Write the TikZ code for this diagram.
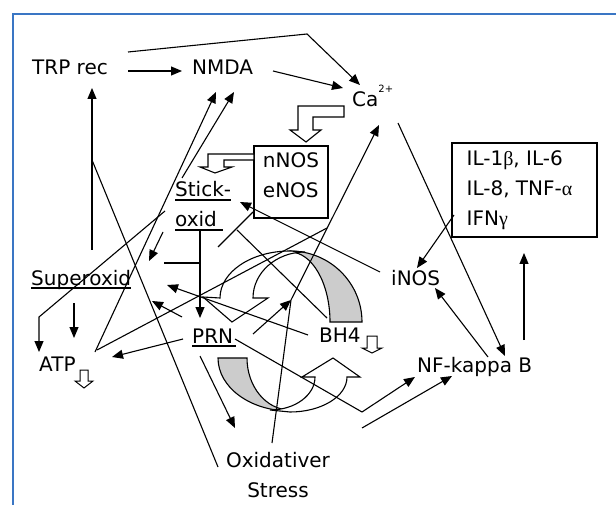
\documentclass[tikz,border=0pt]{standalone}
\usepackage{fontspec}
\setmainfont{DejaVu Sans}
\newfontfamily\grk{Liberation Serif}
\usetikzlibrary{arrows.meta}
\definecolor{frameblue}{RGB}{58,118,196}
\definecolor{shade}{RGB}{204,204,204}
\begin{document}
\begin{tikzpicture}[x=1pt,y=-1pt,
  lbl/.style={font=\fontsize{20}{30}\selectfont, inner sep=0pt, anchor=base west},
  boxed/.style={draw, line width=1.1pt, font=\fontsize{20}{30}\selectfont, inner sep=0pt},
  ln/.style={line width=1.1pt},
  arr/.style={ln, -{Triangle[length=11pt,width=9pt]}},
  ul/.style={line width=1.4pt},
  hollow/.style={draw, line width=1.1pt, fill=white, line join=miter},
  curvfront/.style={draw, line width=1.1pt, fill=white},
  curvback/.style={draw, line width=1.1pt, fill=shade},
  frameline/.style={line width=2pt, draw=frameblue}]

\useasboundingbox (0,0) rectangle (616,505);
\fill[white] (0,0) rectangle (616,505);
\draw[frameline] (616,14) -- (13,14) -- (13,505);

% ---- curved block arrows (cycle) ----
% upper arrow: back (gray) part
\path[curvback] (290,251) .. controls (329.8,251) and (362,282.8) .. (362,322)
  -- (330,322) .. controls (330,283.3) and (312.1,252) .. (290,252) -- cycle;
% upper arrow: front part with head
\path[curvfront] (290,251) .. controls (251.3,251) and (220,272) .. (220,298)
  -- (203,297) -- (232,322) -- (268,298) -- (253,298)
  .. controls (253,272.6) and (276.3,252) .. (305,252) -- cycle;
% lower arrow: back (gray) part
\path[curvback] (218,358) .. controls (218,387.3) and (250.2,411) .. (290,411)
  -- (290,410) .. controls (266.3,410) and (247,386.7) .. (247,358) -- cycle;
% lower arrow: front part with head
\path[curvfront] (290,412) .. controls (321.5,412) and (347,396.3) .. (347,377)
  -- (360,377) -- (333,358) -- (302,377) -- (315,377)
  .. controls (315,395.2) and (294.9,410) .. (270,410) -- cycle;

% ---- nodes ----
\node[lbl] (trp) at (32,75) {TRP rec};
\node[lbl] (nmda) at (192,75) {NMDA};
\node[lbl] (ca) at (352,107) {Ca\raisebox{14pt}{\fontsize{10}{10}\selectfont 2+}};
\node[lbl] (stick) at (175,197) {Stick-};
\node[lbl] (oxid) at (175,227) {oxid};
\node[lbl] (sup) at (31,285) {Superoxid};
\node[lbl] (atp) at (39,371) {ATP};
\node[lbl] (prn) at (192,343) {PRN};
\node[lbl] (bh) at (319,342) {BH4};
\node[lbl] (inos) at (391,285) {iNOS};
\node[lbl] (nf) at (417,372) {NF-kappa B};
\node[lbl, anchor=north, align=center] (ox) at (278,452) {Oxidativer\\Stress};
\node[boxed, minimum width=74pt, minimum height=72pt] (nos) at (291,182)
  {\raisebox{5pt}[\height][\depth]{\begin{tabular}{@{}l@{}}nNOS\\eNOS\end{tabular}}};
\node[boxed, minimum width=145pt, minimum height=94pt] (il) at (524.5,190)
  {\begin{tabular}{@{}l@{\hspace{10pt}}}IL-1{\grk β}, IL-6\\IL-8, TNF-{\grk α}\\IFN{\grk γ}\end{tabular}};

% underlines
\draw[ul] ([yshift=-3pt]sup.base west) -- ([yshift=-3pt]sup.base east);
\draw[ul] ([yshift=-3pt]stick.base west) -- ([yshift=-3pt]stick.base east);
\draw[ul] ([yshift=-3pt]oxid.base west) -- ([xshift=6pt,yshift=-3pt]oxid.base east);
\draw[ul] ([yshift=-3pt]prn.base west) -- ([xshift=3pt,yshift=-3pt]prn.base east);

% ---- hollow block arrows ----
\path[hollow] (344,106) -- (298,106) -- (298,130) -- (290,130) -- (306,142)
  -- (321,130) -- (313,130) -- (313,117) -- (344,117) -- cycle;
\path[hollow] (254,154) -- (208,154) -- (208,167) -- (200,167) -- (215,173)
  -- (232,167) -- (224,167) -- (224,160) -- (254,160) -- cycle;
\path[hollow, line width=1pt] (80,370) -- (88,370) -- (88,381) -- (93,381) -- (84,388)
  -- (75,381) -- (80,381) -- cycle;
\path[hollow, line width=1pt] (367,336) -- (377,336) -- (377,348) -- (382,348) -- (372,353)
  -- (362,348) -- (367,348) -- cycle;

% ---- connector end points ----
\coordinate (trpA) at (128,71);
\coordinate (nmdaL) at (182,71);
\coordinate (trpB) at (128,52);
\coordinate (topK) at (307,34);
\coordinate (caTL) at (360,85);
\coordinate (nmdaR) at (273,71);
\coordinate (caL) at (343,88);
\coordinate (caBR) at (398,123);
\coordinate (nfT) at (505,356);
\coordinate (supT) at (92,250);
\coordinate (trpBot) at (92,88);
\coordinate (trpJ) at (92,160);
\coordinate (oxTL) at (218,467);
\coordinate (atpA) at (95,352);
\coordinate (nmdaB1) at (216,92);
\coordinate (stickT) at (182,178);
\coordinate (nmdaB2) at (234,92);
\coordinate (stickL) at (165,211);
\coordinate (bendA) at (39,317);
\coordinate (atpT) at (39,352);
\coordinate (supB) at (74,303);
\coordinate (atpT2) at (74,338);
\coordinate (oxidB) at (200,231);
\coordinate (prnT) at (200,318);
\coordinate (brL) at (164,263);
\coordinate (brR) at (200,263);
\coordinate (oxidL) at (163,232);
\coordinate (supR1) at (149,261);
\coordinate (prnTL) at (182,317);
\coordinate (supR2) at (152,301);
\coordinate (bhL) at (308,335);
\coordinate (supR3) at (167,285);
\coordinate (prnL) at (183,339);
\coordinate (atpR) at (112,357);
\coordinate (atpB) at (97,350);
\coordinate (nosBR) at (327,228);
\coordinate (nosBL) at (253,212);
\coordinate (freeA) at (218,247);
\coordinate (oxidR) at (237,230);
\coordinate (bhT) at (327,318);
\coordinate (inosL) at (380,272);
\coordinate (stickR) at (240,202);
\coordinate (ilL) at (454,215);
\coordinate (inosR) at (417,268);
\coordinate (nfL) at (488,357);
\coordinate (inosB) at (435,288);
\coordinate (nfU) at (524,340);
\coordinate (ilB) at (524,253);
\coordinate (prnR) at (235,339);
\coordinate (bendB) at (362,412);
\coordinate (nfBL) at (415,377);
\coordinate (freeB) at (362,428);
\coordinate (nfB) at (452,376);
\coordinate (prnB) at (200,356);
\coordinate (oxT) at (235,428);
\coordinate (oxTR) at (272,443);
\coordinate (joinP) at (291,300);
\coordinate (caB) at (379,125);
\coordinate (prnRR) at (253,334);

% ---- connectors ----
\draw[arr] (trpA) -- (nmdaL);
\draw[arr] (trpB) -- (topK) -- (caTL);
\draw[arr] (nmdaR) -- (caL);
\draw[arr] (caBR) -- (nfT);
\draw[arr] (supT) -- (trpBot);
\draw[ln] (oxTL) -- (trpJ);
\draw[arr] (atpA) -- (nmdaB1);
\draw[arr] (stickT) -- (nmdaB2);
\draw[arr] (stickL) -- (bendA) -- (atpT);
\draw[arr] (supB) -- (atpT2);
\draw[arr] (oxidB) -- (prnT);
\draw[ln] (brL) -- (brR);
\draw[arr] (oxidL) -- (supR1);
\draw[arr] (prnTL) -- (supR2);
\draw[arr] (bhL) -- (supR3);
\draw[arr] (prnL) -- (atpR);
\draw[ln] (atpB) -- (nosBR);
\draw[ln] (nosBL) -- (freeA);
\draw[ln] (oxidR) -- (bhT);
\draw[arr] (inosL) -- (stickR);
\draw[arr] (ilL) -- (inosR);
\draw[arr] (nfL) -- (inosB);
\draw[arr] (nfU) -- (ilB);
\draw[arr] (prnR) -- (bendB) -- (nfBL);
\draw[arr] (freeB) -- (nfB);
\draw[arr] (prnB) -- (oxT);
\draw[arr] (oxTR) -- (joinP) -- (caB);
\draw[arr] (prnRR) -- (joinP);

\end{tikzpicture}
\end{document}
